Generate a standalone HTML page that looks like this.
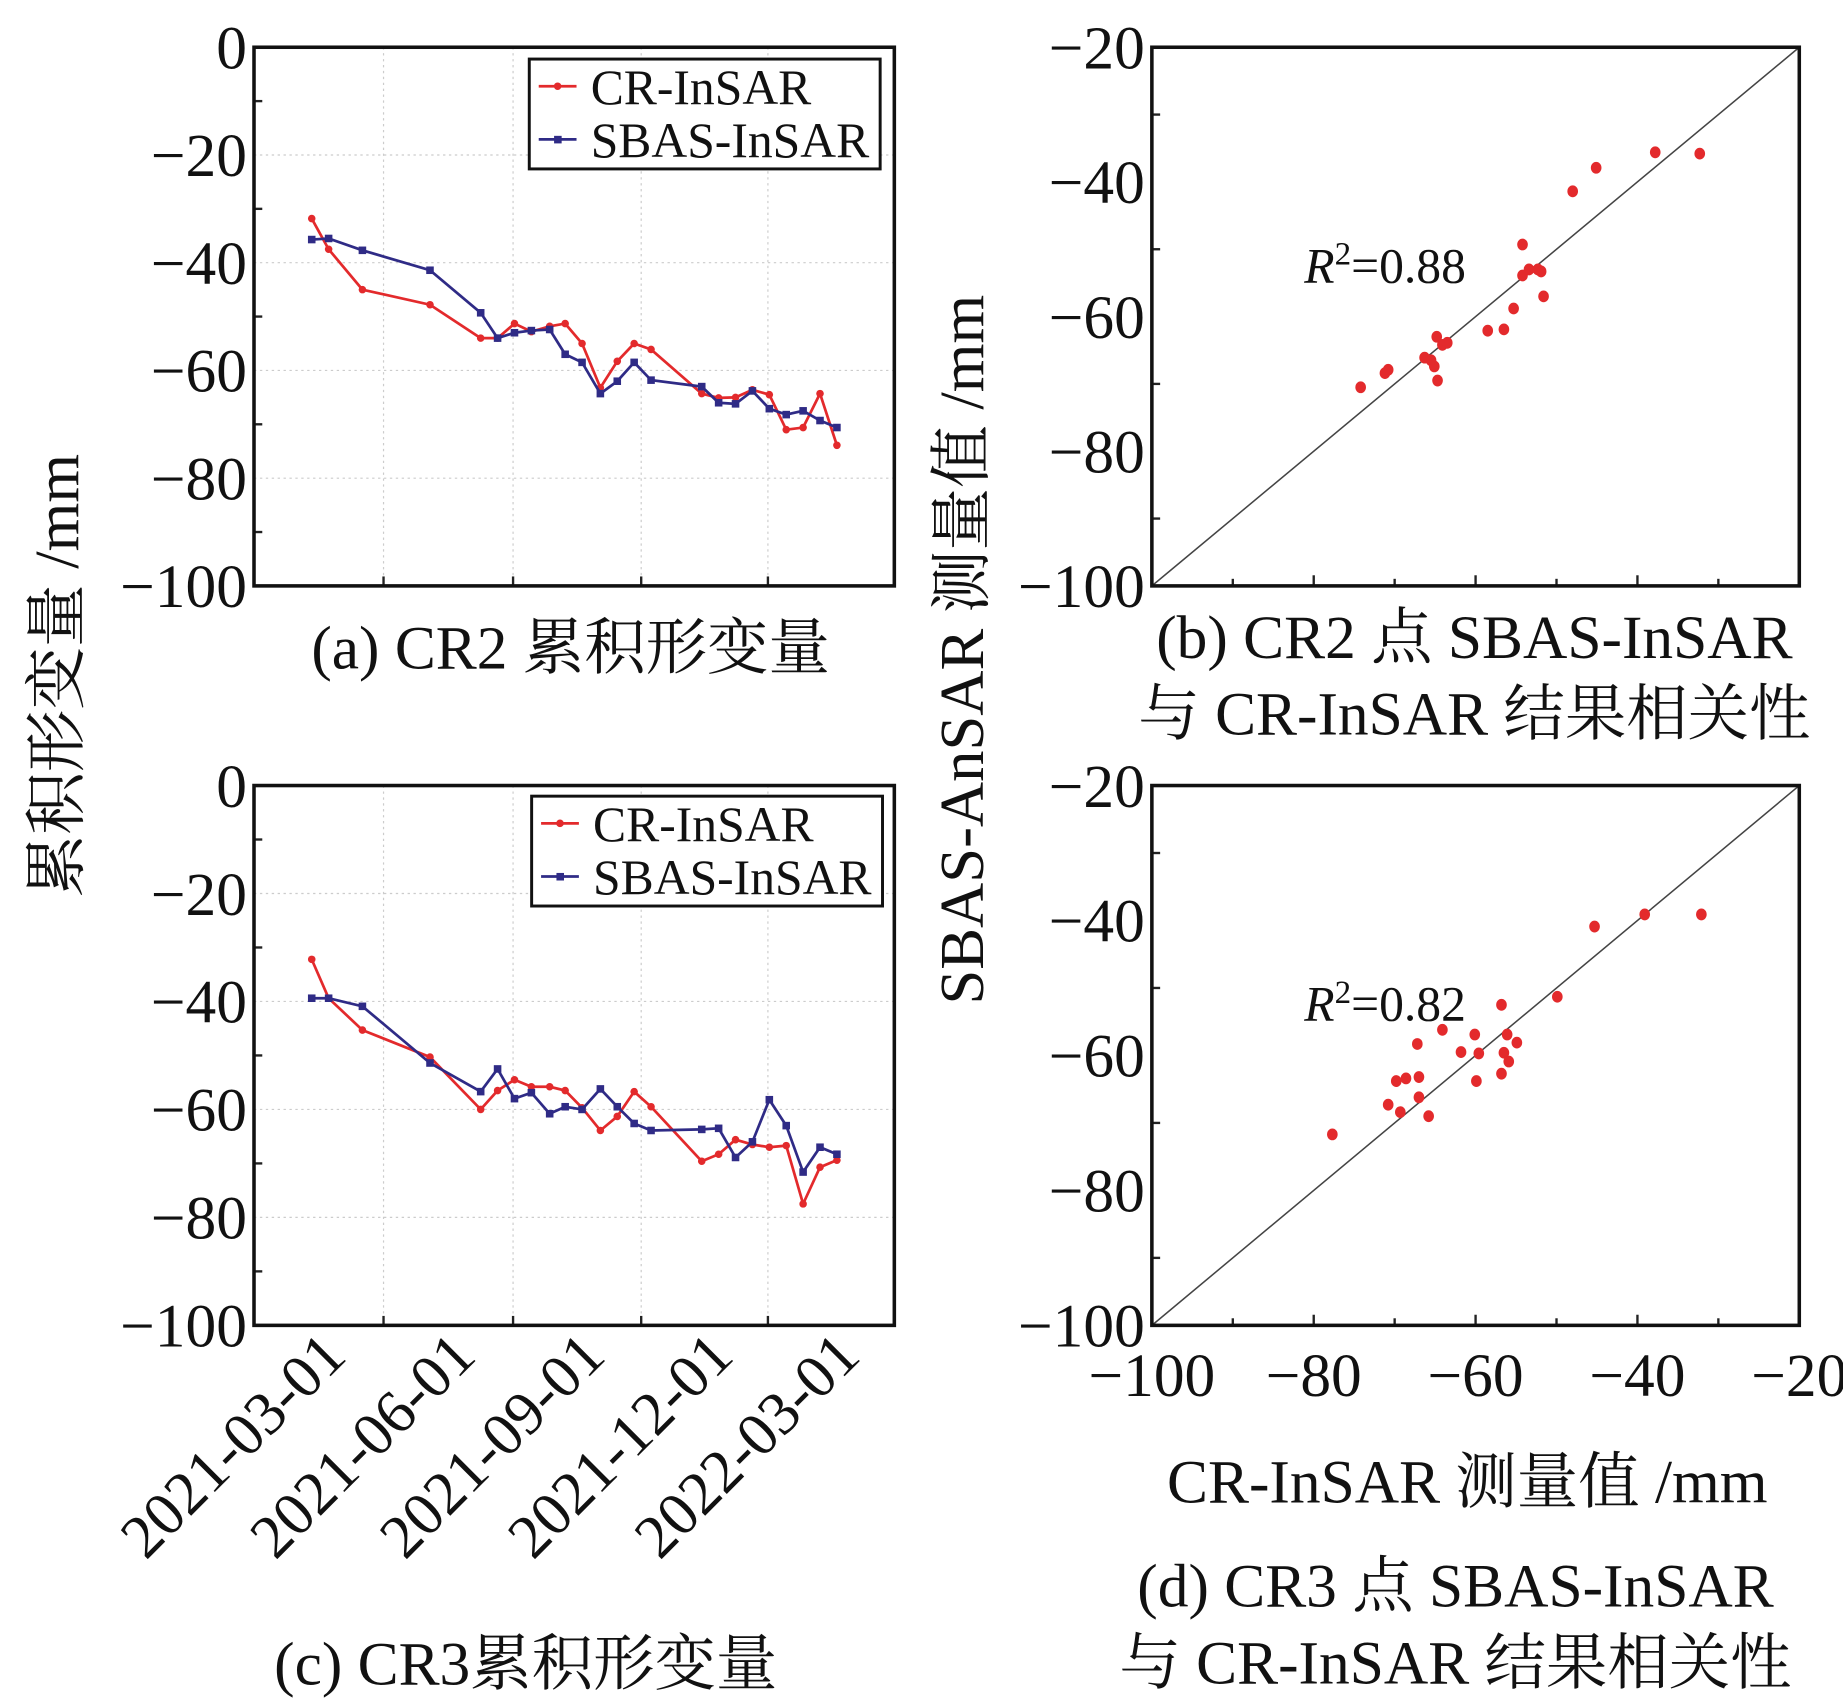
<!DOCTYPE html>
<html><head><meta charset="utf-8"><style>
html,body{margin:0;padding:0;background:#fff}
svg{display:block}
text{font-family:"Liberation Serif","Noto Serif CJK SC",serif;fill:#111}
</style></head><body>
<svg id="fig" width="1843" height="1701" viewBox="0 0 1560 1440" preserveAspectRatio="none" xmlns="http://www.w3.org/2000/svg">
<text x="483" y="566" font-size="52" text-anchor="middle">(a) CR2 累积形变量</text>
<text x="445" y="1426" font-size="52" text-anchor="middle">(c) CR3累积形变量</text>
<text x="1248" y="557" font-size="52" text-anchor="middle">(b) CR2 点 SBAS-InSAR</text>
<text x="1248" y="622" font-size="52" text-anchor="middle">与 CR-InSAR 结果相关性</text>
<text x="1242" y="1272" font-size="52" text-anchor="middle">CR-InSAR 测量值 /mm</text>
<text x="1232" y="1360" font-size="52" text-anchor="middle">(d) CR3 点 SBAS-InSAR</text>
<text x="1232" y="1425" font-size="52" text-anchor="middle">与 CR-InSAR 结果相关性</text>
<text transform="translate(66,572) rotate(-90)" font-size="53" text-anchor="middle">累积形变量 /mm</text>
<text transform="translate(832,550) rotate(-90)" font-size="53" text-anchor="middle">SBAS-AnSAR 测量值 /mm</text>
</svg>
<script>
// ---- data ----
const dayOffsets = [41,53,77,125,161,173,185,197,210,221,233,246,258,270,282,318,330,342,354,366,378,390,402,414];
const crA   = [-31.8,-37.5,-45,-47.8,-54,-54,-51.3,-52.8,-51.8,-51.3,-55,-63.2,-58.3,-55,-56.1,-64.3,-65.1,-65,-63.6,-64.5,-71,-70.6,-64.3,-73.9];
const sbasA = [-35.7,-35.5,-37.7,-41.4,-49.3,-54,-53,-52.6,-52.4,-57,-58.5,-64.3,-62,-58.5,-61.8,-63,-66,-66.2,-63.8,-67.1,-68.2,-67.5,-69.3,-70.6];
const crC   = [-32.2,-39.4,-45.3,-50.3,-60,-56.5,-54.5,-55.8,-55.8,-56.5,-59.7,-63.9,-61.3,-56.7,-59.5,-69.6,-68.3,-65.6,-66.5,-67,-66.7,-77.5,-70.7,-69.4];
const sbasC = [-39.4,-39.4,-40.9,-51.4,-56.7,-52.5,-58,-56.9,-60.8,-59.5,-60,-56.2,-59.5,-62.6,-63.9,-63.7,-63.5,-68.9,-66,-58.2,-63,-71.6,-67,-68.3];
const dateTickLabels = ["2021-03-01","2021-06-01","2021-09-01","2021-12-01","2022-03-01"];
const dateTickDays = [0,92,184,275,365];
const yTicksTS = [0,-20,-40,-60,-80,-100];
const scatterBX = [-74.2,-71.2,-70.8,-66.3,-65.5,-65.1,-64.8,-64.7,-64.1,-63.5,-58.5,-56.5,-55.3,-54.2,-54.2,-53.4,-52.3,-51.9,-51.6,-48,-45.1,-37.8,-32.3];
const scatterBY = [-70.5,-68.4,-67.9,-66.1,-66.5,-67.4,-63,-69.5,-64.2,-63.9,-62.1,-61.9,-58.8,-49.3,-53.9,-53,-53,-53.3,-57,-41.4,-37.9,-35.6,-35.8];
const scatterDX = [-77.7,-70.8,-69.8,-69.3,-68.6,-67.2,-67,-67,-65.8,-64.1,-61.8,-60.1,-59.9,-59.6,-56.8,-56.8,-56.5,-56.1,-55.9,-54.9,-49.9,-45.3,-39.1,-32.1];
const scatterDY = [-71.7,-67.3,-63.8,-68.4,-63.4,-58.3,-63.2,-66.2,-69,-56.2,-59.5,-56.9,-63.8,-59.7,-52.5,-62.7,-59.6,-56.9,-60.9,-58.1,-51.3,-40.9,-39.1,-39.1];
const scatterTicks = [-20,-40,-60,-80,-100];
const r2B = "0.88", r2D = "0.82";

const NS="http://www.w3.org/2000/svg";
const svg=document.getElementById('fig');
function mk(tag,attrs,parent){const e=document.createElementNS(NS,tag);for(const k in attrs)e.setAttribute(k,attrs[k]);(parent||svg).appendChild(e);return e;}

function timeSeries(top,bottom,cr,sb,name,legendTop,showDates){
  const L=215,R=757;
  const g=mk('g',{});
  
  
  const xs=d=>L+d*(650-L)/365;
  const ys=v=>top+(0-v)/100*(bottom-top);
  for(const d of dateTickDays.slice(1)){const l=mk('line',{x1:xs(d),x2:xs(d),y1:top,y2:bottom,stroke:'#ccc','stroke-width':1,'stroke-dasharray':'2,3'},g);
    const t=mk('line',{x1:xs(d),x2:xs(d),y1:bottom,y2:bottom-8,stroke:'#222','stroke-width':2},g);}
  for(const v of yTicksTS){const y=ys(v);
    if(v!==0&&v!==-100){const l=mk('line',{x1:L,x2:R,y1:y,y2:y,stroke:'#ccc','stroke-width':1,'stroke-dasharray':'2,3'},g);}
    const t=mk('text',{x:L-6,y:y+18,'font-size':52,'text-anchor':'end'},g);t.textContent=(v<0?'−':'')+Math.abs(v);
    
    if(v>-100){const m=ys(v-10);const mt=mk('line',{x1:L,x2:L+7,y1:m,y2:m,stroke:'#222','stroke-width':2},g);}
  }
  const series=[[cr,'#e32a2c','circle','cr-insar-line'],[sb,'#2f2b86','square','sbas-insar-line']];
  for(const [arr,col,shape,nm] of series){
    const p=mk('polyline',{points:arr.map((v,i)=>xs(dayOffsets[i])+','+ys(v)).join(' '),fill:'none',stroke:col,'stroke-width':2.3},g);
    
    arr.forEach((v,i)=>{const x=xs(dayOffsets[i]),y=ys(v);let m;
      if(shape==='circle')m=mk('circle',{cx:x,cy:y,r:3.2,fill:col},g);else m=mk('rect',{x:x-3.2,y:y-3.2,width:6.4,height:6.4,fill:col},g);
      });
  }
  const fr=mk('rect',{x:L,y:top,width:R-L,height:bottom-top,fill:'none',stroke:'#111','stroke-width':3},g);
  
  const lg=mk('g',{},g);
  const lx=legendTop[0],ly=legendTop[1];
  mk('rect',{x:lx,y:ly,width:297,height:93,fill:'#fff',stroke:'#111','stroke-width':2.5},lg);
  [['CR-InSAR','#e32a2c',0],['SBAS-InSAR','#2f2b86',1]].forEach(([lab,col,k])=>{
    const yy=ly+23+k*45;
    const e=mk('g',{},lg);
    mk('line',{x1:lx+8,x2:lx+40,y1:yy,y2:yy,stroke:col,'stroke-width':2.3},e);
    if(k===0)mk('circle',{cx:lx+24,cy:yy,r:3.2,fill:col},e);else mk('rect',{x:lx+21,y:yy-3,width:6.4,height:6.4,fill:col},e);
    const t=mk('text',{x:lx+52,y:yy+15,'font-size':42},e);t.textContent=lab;
  });
  if(showDates){
    dateTickDays.forEach((d,i)=>{const x=xs(d)+80,y=1150;
      const t=mk('text',{x:x,y:y,'font-size':52,'text-anchor':'end',transform:`rotate(-45 ${x} ${y})`},g);
      t.textContent=dateTickLabels[i];});
  }
}
timeSeries(40,496,crA,sbasA,'chart-a-cr2',[448,50],false);
timeSeries(665,1122,crC,sbasC,'chart-c-cr3',[450,674],true);

function scatter(top,bottom,X,Y,name,r2,showX){
  const L=975,R=1523;
  const g=mk('g',{});
  const xs=v=>L+(v+100)/80*(R-L);
  const ys=v=>top+(-20-v)/80*(bottom-top);
  const d=mk('line',{x1:xs(-100),y1:ys(-100),x2:xs(-20),y2:ys(-20),stroke:'#444','stroke-width':1.3},g);
  
  for(const v of scatterTicks){
    const t=mk('text',{x:L-6,y:ys(v)+18,'font-size':52,'text-anchor':'end'},g);t.textContent='−'+Math.abs(v);
    
    if(v>-100){const m=ys(v-10);const mt=mk('line',{x1:L,x2:L+7,y1:m,y2:m,stroke:'#222','stroke-width':2},g);}
  }
  for(let v=-90;v<-20;v+=10){const x=xs(v);const tk=mk('line',{x1:x,x2:x,y1:bottom,y2:bottom-(v%20===0?9:6),stroke:'#222','stroke-width':2},g);}
  if(showX){for(const v of scatterTicks){const t=mk('text',{x:xs(v),y:bottom+60,'font-size':52,'text-anchor':'middle'},g);t.textContent='−'+Math.abs(v);}}
  X.forEach((x,i)=>{const c=mk('ellipse',{cx:xs(x),cy:ys(Y[i]),rx:4.5,ry:5,fill:'#e32a2c'},g);});
  const fr=mk('rect',{x:L,y:top,width:R-L,height:bottom-top,fill:'none',stroke:'#111','stroke-width':3},g);
  
  const t=mk('text',{x:1104,y:top+199,'font-size':42},g);
  
  const a=mk('tspan',{'font-style':'italic'},t);a.textContent='R';
  const b=mk('tspan',{dy:-15,'font-size':28},t);b.textContent='2';
  const c=mk('tspan',{dy:15},t);c.textContent='='+r2;
}
scatter(40,496,scatterBX,scatterBY,'scatter-b-cr2',r2B,false);
scatter(665,1122,scatterDX,scatterDY,'scatter-d-cr3',r2D,true);
</script>
</body></html>
